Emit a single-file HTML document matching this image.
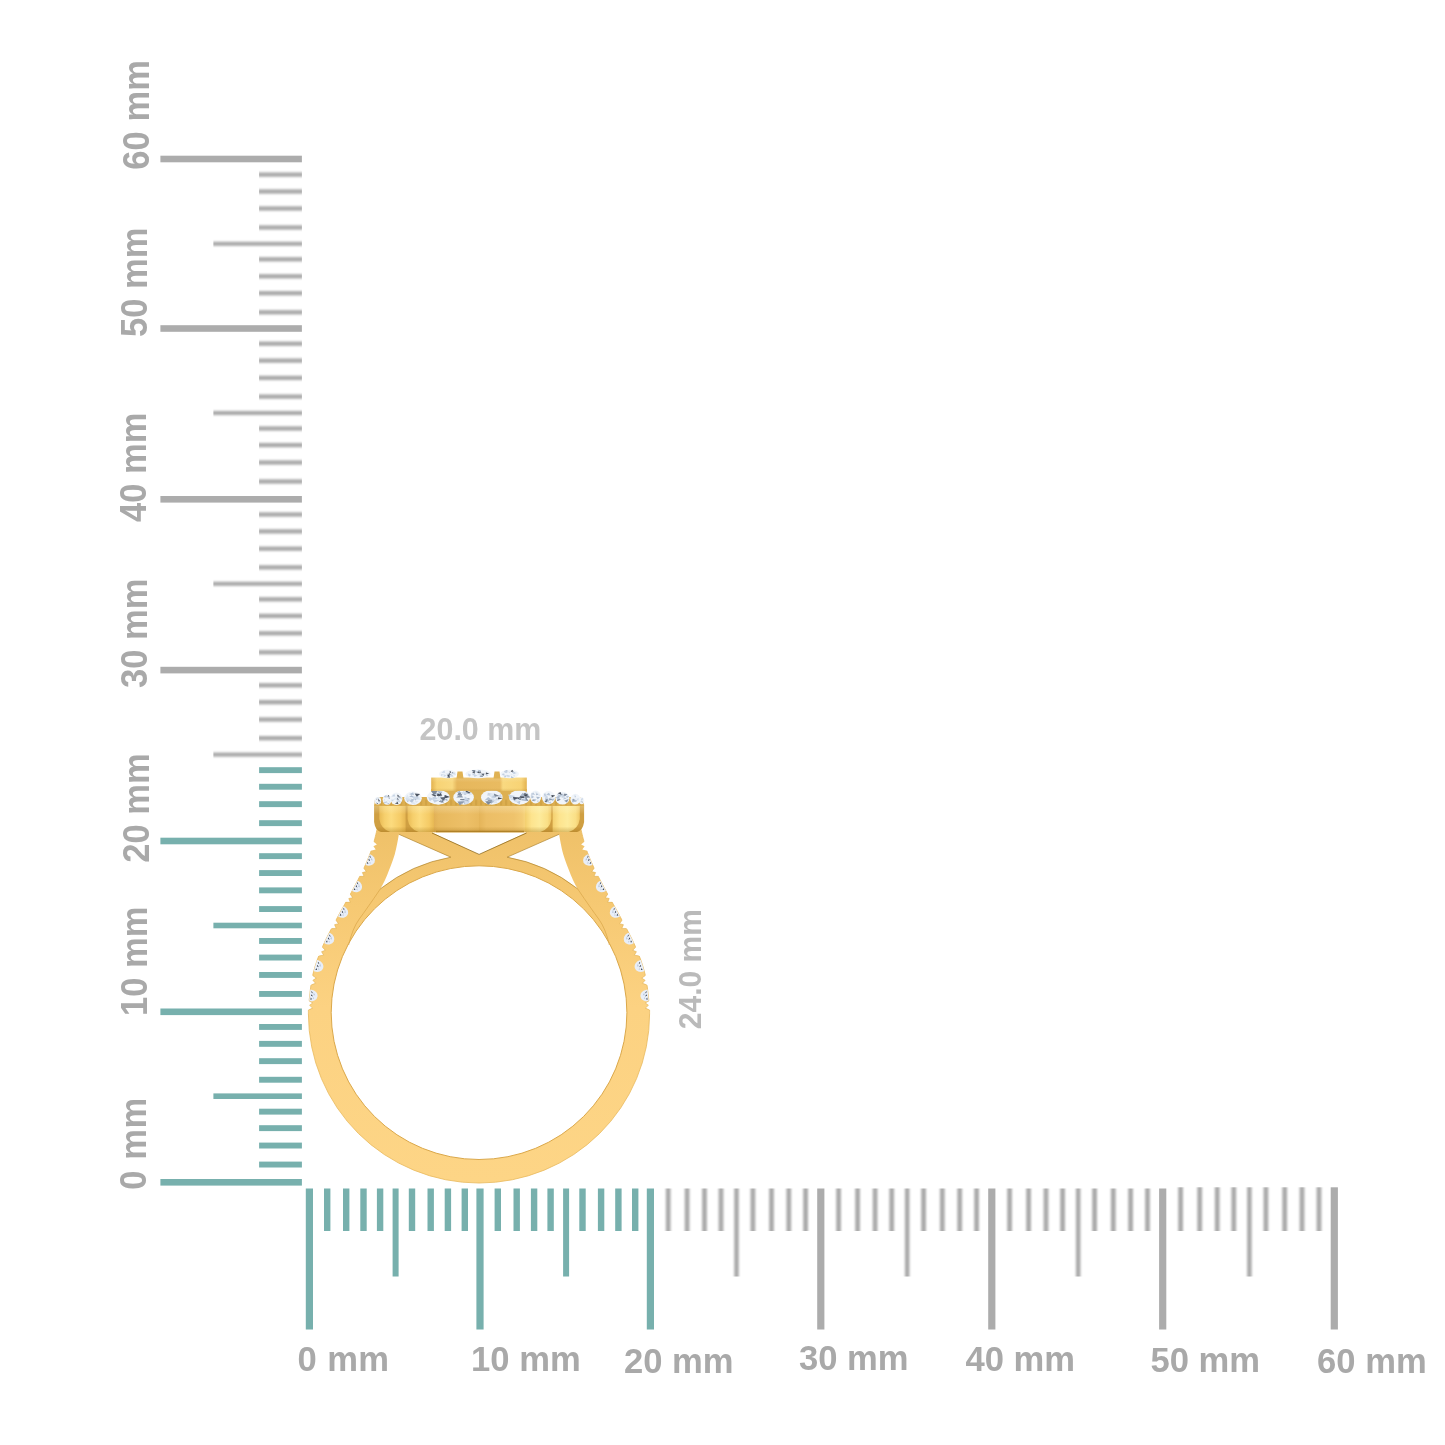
<!DOCTYPE html>
<html lang="en">
<head>
<meta charset="utf-8">
<title>Ring size guide</title>
<style>
html,body{margin:0;padding:0;background:#fff;}
body{width:1445px;height:1445px;overflow:hidden;}
svg{display:block;}
text{font-family:"Liberation Sans",sans-serif;font-weight:bold;}
.lb{fill:#a9a9a9;}
.dm{fill:#c4c4c4;}
.dm2{fill:#bababa;}
</style>
</head>
<body>
<svg width="1445" height="1445" viewBox="0 0 1445 1445">
<rect width="1445" height="1445" fill="#ffffff"/>
<defs>
<filter id="softx" x="-2%" y="-10%" width="104%" height="120%"><feGaussianBlur stdDeviation="0.9 0.25"/></filter>
<filter id="softy" x="-10%" y="-2%" width="120%" height="104%"><feGaussianBlur stdDeviation="0.25 0.8"/></filter>
</defs>
<g id="vruler" shape-rendering="geometricPrecision">
<rect x="160.4" y="1179.0" width="141.5" height="6.6" fill="#77b0ad"/>
<rect x="259.1" y="1161.6" width="42.8" height="5.9" fill="#77b0ad"/>
<rect x="259.1" y="1142.6" width="42.8" height="5.9" fill="#77b0ad"/>
<rect x="259.1" y="1125.2" width="42.8" height="5.9" fill="#77b0ad"/>
<rect x="259.1" y="1108.7" width="42.8" height="5.9" fill="#77b0ad"/>
<rect x="213.4" y="1093.4" width="88.5" height="5.6" fill="#77b0ad"/>
<rect x="259.1" y="1076.8" width="42.8" height="5.9" fill="#77b0ad"/>
<rect x="259.1" y="1058.2" width="42.8" height="5.9" fill="#77b0ad"/>
<rect x="259.1" y="1040.9" width="42.8" height="5.9" fill="#77b0ad"/>
<rect x="259.1" y="1024.0" width="42.8" height="5.9" fill="#77b0ad"/>
<rect x="160.4" y="1008.5" width="141.5" height="6.6" fill="#77b0ad"/>
<rect x="259.1" y="991.0" width="42.8" height="5.9" fill="#77b0ad"/>
<rect x="259.1" y="972.0" width="42.8" height="5.9" fill="#77b0ad"/>
<rect x="259.1" y="954.6" width="42.8" height="5.9" fill="#77b0ad"/>
<rect x="259.1" y="938.0" width="42.8" height="5.9" fill="#77b0ad"/>
<rect x="213.4" y="922.7" width="88.5" height="5.6" fill="#77b0ad"/>
<rect x="259.1" y="906.1" width="42.8" height="5.9" fill="#77b0ad"/>
<rect x="259.1" y="887.4" width="42.8" height="5.9" fill="#77b0ad"/>
<rect x="259.1" y="870.1" width="42.8" height="5.9" fill="#77b0ad"/>
<rect x="259.1" y="853.2" width="42.8" height="5.9" fill="#77b0ad"/>
<rect x="160.4" y="837.7" width="141.5" height="6.6" fill="#77b0ad"/>
<rect x="259.1" y="820.2" width="42.8" height="5.9" fill="#77b0ad"/>
<rect x="259.1" y="801.2" width="42.8" height="5.9" fill="#77b0ad"/>
<rect x="259.1" y="783.8" width="42.8" height="5.9" fill="#77b0ad"/>
<rect x="259.1" y="767.2" width="42.8" height="5.9" fill="#77b0ad"/>
<rect x="160.4" y="666.8" width="141.5" height="6.6" fill="#acacac"/>
<rect x="160.4" y="496.0" width="141.5" height="6.6" fill="#acacac"/>
<rect x="160.4" y="325.2" width="141.5" height="6.6" fill="#acacac"/>
<rect x="160.4" y="155.7" width="141.5" height="6.6" fill="#acacac"/>
<g filter="url(#softy)">
<rect x="213.4" y="752.5" width="88.5" height="4.2" fill="#ababab"/>
<rect x="259.1" y="736.0" width="42.8" height="4.4" fill="#ababab"/>
<rect x="259.1" y="717.3" width="42.8" height="4.4" fill="#ababab"/>
<rect x="259.1" y="700.0" width="42.8" height="4.4" fill="#ababab"/>
<rect x="259.1" y="683.1" width="42.8" height="4.4" fill="#ababab"/>
<rect x="259.1" y="650.1" width="42.8" height="4.4" fill="#ababab"/>
<rect x="259.1" y="631.1" width="42.8" height="4.4" fill="#ababab"/>
<rect x="259.1" y="613.7" width="42.8" height="4.4" fill="#ababab"/>
<rect x="259.1" y="597.1" width="42.8" height="4.4" fill="#ababab"/>
<rect x="213.4" y="581.7" width="88.5" height="4.2" fill="#ababab"/>
<rect x="259.1" y="565.2" width="42.8" height="4.4" fill="#ababab"/>
<rect x="259.1" y="546.5" width="42.8" height="4.4" fill="#ababab"/>
<rect x="259.1" y="529.2" width="42.8" height="4.4" fill="#ababab"/>
<rect x="259.1" y="512.3" width="42.8" height="4.4" fill="#ababab"/>
<rect x="259.1" y="479.3" width="42.8" height="4.4" fill="#ababab"/>
<rect x="259.1" y="460.3" width="42.8" height="4.4" fill="#ababab"/>
<rect x="259.1" y="442.9" width="42.8" height="4.4" fill="#ababab"/>
<rect x="259.1" y="426.3" width="42.8" height="4.4" fill="#ababab"/>
<rect x="213.4" y="410.9" width="88.5" height="4.2" fill="#ababab"/>
<rect x="259.1" y="394.4" width="42.8" height="4.4" fill="#ababab"/>
<rect x="259.1" y="375.7" width="42.8" height="4.4" fill="#ababab"/>
<rect x="259.1" y="358.4" width="42.8" height="4.4" fill="#ababab"/>
<rect x="259.1" y="341.5" width="42.8" height="4.4" fill="#ababab"/>
<rect x="259.1" y="310.1" width="42.8" height="4.4" fill="#ababab"/>
<rect x="259.1" y="291.0" width="42.8" height="4.4" fill="#ababab"/>
<rect x="259.1" y="274.1" width="42.8" height="4.4" fill="#ababab"/>
<rect x="259.1" y="257.1" width="42.8" height="4.4" fill="#ababab"/>
<rect x="213.4" y="241.7" width="88.5" height="4.2" fill="#ababab"/>
<rect x="259.1" y="225.3" width="42.8" height="4.4" fill="#ababab"/>
<rect x="259.1" y="206.3" width="42.8" height="4.4" fill="#ababab"/>
<rect x="259.1" y="189.3" width="42.8" height="4.4" fill="#ababab"/>
<rect x="259.1" y="172.4" width="42.8" height="4.4" fill="#ababab"/>
</g>
</g>
<g id="hruler">
<rect x="305.8" y="1188.5" width="7.2" height="141.0" fill="#77b0ad"/>
<rect x="324.0" y="1188.5" width="6.4" height="42.5" fill="#77b0ad"/>
<rect x="343.0" y="1188.5" width="6.4" height="42.5" fill="#77b0ad"/>
<rect x="360.3" y="1188.5" width="6.4" height="42.5" fill="#77b0ad"/>
<rect x="376.9" y="1188.5" width="6.4" height="42.5" fill="#77b0ad"/>
<rect x="392.6" y="1188.5" width="6.0" height="88.0" fill="#77b0ad"/>
<rect x="408.8" y="1188.5" width="6.4" height="42.5" fill="#77b0ad"/>
<rect x="427.5" y="1188.5" width="6.4" height="42.5" fill="#77b0ad"/>
<rect x="444.7" y="1188.5" width="6.4" height="42.5" fill="#77b0ad"/>
<rect x="461.6" y="1188.5" width="6.4" height="42.5" fill="#77b0ad"/>
<rect x="476.4" y="1188.5" width="7.2" height="141.0" fill="#77b0ad"/>
<rect x="494.6" y="1188.5" width="6.4" height="42.5" fill="#77b0ad"/>
<rect x="513.5" y="1188.5" width="6.4" height="42.5" fill="#77b0ad"/>
<rect x="530.9" y="1188.5" width="6.4" height="42.5" fill="#77b0ad"/>
<rect x="547.4" y="1188.5" width="6.4" height="42.5" fill="#77b0ad"/>
<rect x="563.1" y="1188.5" width="6.0" height="88.0" fill="#77b0ad"/>
<rect x="579.3" y="1188.5" width="6.4" height="42.5" fill="#77b0ad"/>
<rect x="597.9" y="1188.5" width="6.4" height="42.5" fill="#77b0ad"/>
<rect x="615.2" y="1188.5" width="6.4" height="42.5" fill="#77b0ad"/>
<rect x="632.0" y="1188.5" width="6.4" height="42.5" fill="#77b0ad"/>
<rect x="646.8" y="1188.5" width="7.2" height="141.0" fill="#77b0ad"/>
<rect x="817.2" y="1188.5" width="7.2" height="141.0" fill="#acacac"/>
<rect x="988.2" y="1188.5" width="7.2" height="141.0" fill="#acacac"/>
<rect x="1159.1" y="1188.5" width="7.2" height="141.0" fill="#acacac"/>
<rect x="1330.7" y="1187.3" width="7.2" height="142.2" fill="#acacac"/>
<g filter="url(#softx)">
<rect x="665.8" y="1188.5" width="4.8" height="42.5" fill="#ababab"/>
<rect x="684.7" y="1188.5" width="4.8" height="42.5" fill="#ababab"/>
<rect x="702.1" y="1188.5" width="4.8" height="42.5" fill="#ababab"/>
<rect x="718.6" y="1188.5" width="4.8" height="42.5" fill="#ababab"/>
<rect x="734.2" y="1188.5" width="4.6" height="88.0" fill="#ababab"/>
<rect x="750.5" y="1188.5" width="4.8" height="42.5" fill="#ababab"/>
<rect x="769.1" y="1188.5" width="4.8" height="42.5" fill="#ababab"/>
<rect x="786.4" y="1188.5" width="4.8" height="42.5" fill="#ababab"/>
<rect x="803.2" y="1188.5" width="4.8" height="42.5" fill="#ababab"/>
<rect x="836.2" y="1188.5" width="4.8" height="42.5" fill="#ababab"/>
<rect x="855.2" y="1188.5" width="4.8" height="42.5" fill="#ababab"/>
<rect x="872.7" y="1188.5" width="4.8" height="42.5" fill="#ababab"/>
<rect x="889.3" y="1188.5" width="4.8" height="42.5" fill="#ababab"/>
<rect x="904.9" y="1188.5" width="4.6" height="88.0" fill="#ababab"/>
<rect x="921.2" y="1188.5" width="4.8" height="42.5" fill="#ababab"/>
<rect x="939.9" y="1188.5" width="4.8" height="42.5" fill="#ababab"/>
<rect x="957.3" y="1188.5" width="4.8" height="42.5" fill="#ababab"/>
<rect x="974.2" y="1188.5" width="4.8" height="42.5" fill="#ababab"/>
<rect x="1007.2" y="1188.5" width="4.8" height="42.5" fill="#ababab"/>
<rect x="1026.2" y="1188.5" width="4.8" height="42.5" fill="#ababab"/>
<rect x="1043.6" y="1188.5" width="4.8" height="42.5" fill="#ababab"/>
<rect x="1060.2" y="1188.5" width="4.8" height="42.5" fill="#ababab"/>
<rect x="1075.9" y="1188.5" width="4.6" height="88.0" fill="#ababab"/>
<rect x="1092.2" y="1188.5" width="4.8" height="42.5" fill="#ababab"/>
<rect x="1110.9" y="1188.5" width="4.8" height="42.5" fill="#ababab"/>
<rect x="1128.2" y="1188.5" width="4.8" height="42.5" fill="#ababab"/>
<rect x="1145.1" y="1188.5" width="4.8" height="42.5" fill="#ababab"/>
<rect x="1178.2" y="1187.3" width="4.8" height="43.7" fill="#ababab"/>
<rect x="1197.3" y="1187.3" width="4.8" height="43.7" fill="#ababab"/>
<rect x="1214.8" y="1187.3" width="4.8" height="43.7" fill="#ababab"/>
<rect x="1231.4" y="1187.3" width="4.8" height="43.7" fill="#ababab"/>
<rect x="1247.1" y="1187.3" width="4.6" height="89.2" fill="#ababab"/>
<rect x="1263.5" y="1187.3" width="4.8" height="43.7" fill="#ababab"/>
<rect x="1282.3" y="1187.3" width="4.8" height="43.7" fill="#ababab"/>
<rect x="1299.6" y="1187.3" width="4.8" height="43.7" fill="#ababab"/>
<rect x="1316.6" y="1187.3" width="4.8" height="43.7" fill="#ababab"/>
</g>
</g>
<g id="labels">
<text class="lb" transform="translate(297.5,1370.7) scale(1,1.02)" font-size="34.6" letter-spacing="0.4">0 mm</text>
<text class="lb" transform="translate(471.1,1370.7) scale(1,1.02)" font-size="34.6">10 mm</text>
<text class="lb" transform="translate(624.0,1372.8) scale(1,1.02)" font-size="34.6">20 mm</text>
<text class="lb" transform="translate(799.0,1370.3) scale(1,1.02)" font-size="34.6">30 mm</text>
<text class="lb" transform="translate(965.4,1370.7) scale(1,1.02)" font-size="34.6">40 mm</text>
<text class="lb" transform="translate(1150.4,1371.5) scale(1,1.02)" font-size="34.6">50 mm</text>
<text class="lb" transform="translate(1317.1,1373.0) scale(1,1.02)" font-size="34.6">60 mm</text>
<text class="lb" transform="translate(146.4,1189.8) rotate(-90) scale(1,1.05)" font-size="34.6" letter-spacing="0.6">0 mm</text>
<text class="lb" transform="translate(147.4,1016.0) rotate(-90) scale(1,1.05)" font-size="34.6">10 mm</text>
<text class="lb" transform="translate(148.5,862.8) rotate(-90) scale(1,1.05)" font-size="34.6">20 mm</text>
<text class="lb" transform="translate(146.7,688.0) rotate(-90) scale(1,1.05)" font-size="34.6">30 mm</text>
<text class="lb" transform="translate(146.3,522.0) rotate(-90) scale(1,1.05)" font-size="34.6">40 mm</text>
<text class="lb" transform="translate(147.4,337.0) rotate(-90) scale(1,1.05)" font-size="34.6">50 mm</text>
<text class="lb" transform="translate(148.8,169.7) rotate(-90) scale(1,1.05)" font-size="34.6">60 mm</text>
</g>
<defs>
<linearGradient id="gBody" gradientUnits="userSpaceOnUse" x1="0" y1="830" x2="0" y2="1185"><stop offset="0" stop-color="#efc169"/><stop offset="0.22" stop-color="#f6c973"/><stop offset="0.5" stop-color="#fcd282"/><stop offset="1" stop-color="#fdd586"/></linearGradient>
<linearGradient id="gLobeL" x1="0" y1="0" x2="1" y2="0"><stop offset="0" stop-color="#e9bb55"/><stop offset="0.2" stop-color="#f6cf6c"/><stop offset="0.45" stop-color="#fcdb7e"/><stop offset="0.8" stop-color="#f5cb66"/><stop offset="1" stop-color="#e6b652"/></linearGradient>
<linearGradient id="gLobeR" x1="0" y1="0" x2="1" y2="0"><stop offset="0" stop-color="#f3cf6e"/><stop offset="0.25" stop-color="#fde48e"/><stop offset="0.55" stop-color="#fdeb9c"/><stop offset="0.85" stop-color="#fadf86"/><stop offset="1" stop-color="#f0c968"/></linearGradient>
<linearGradient id="gLobeM" x1="0" y1="0" x2="1" y2="0"><stop offset="0" stop-color="#e2b156"/><stop offset="0.1" stop-color="#e7b85d"/><stop offset="0.7" stop-color="#edc068"/><stop offset="1" stop-color="#e8b95f"/></linearGradient>
<linearGradient id="gLobeM2" x1="0" y1="0" x2="1" y2="0"><stop offset="0" stop-color="#e5b55a"/><stop offset="0.15" stop-color="#ecbe66"/><stop offset="0.75" stop-color="#efc36c"/><stop offset="0.93" stop-color="#f3cb74"/><stop offset="1" stop-color="#f7d47c"/></linearGradient>
<linearGradient id="gShade" x1="0" y1="0" x2="0" y2="1"><stop offset="0" stop-color="#fff3c0" stop-opacity="0.35"/><stop offset="0.35" stop-color="#ffffff" stop-opacity="0"/><stop offset="0.8" stop-color="#9a6a10" stop-opacity="0"/><stop offset="1" stop-color="#9a6a10" stop-opacity="0.35"/></linearGradient>
<linearGradient id="gBez" x1="0" y1="0" x2="1" y2="0"><stop offset="0" stop-color="#e3b24f"/><stop offset="0.06" stop-color="#f7d375"/><stop offset="0.22" stop-color="#f9d980"/><stop offset="0.27" stop-color="#e6b75c"/><stop offset="0.72" stop-color="#e9bb61"/><stop offset="0.75" stop-color="#f9d980"/><stop offset="0.94" stop-color="#f7d375"/><stop offset="1" stop-color="#e3b24f"/></linearGradient>
</defs>
<g id="ring">
<path d="M377.5 826.0 C377.4 826.8 377.6 827.3 376.7 831.0 C375.8 834.7 374.1 842.3 372.0 848.3 C369.9 854.3 367.9 859.6 364.4 867.0 C360.9 874.4 355.7 884.2 351.2 892.6 C346.7 901.0 342.1 908.5 337.4 917.5 C332.6 926.5 326.8 936.9 322.7 946.3 C318.6 955.7 315.3 964.5 313.0 974.0 C310.7 983.5 309.7 996.4 308.9 1003.0 C308.1 1009.6 308.5 1012.0 308.4 1013.8 A170.6 169.3 0 0 0 649.6 1013.8 C649.5 1012.0 649.9 1009.6 649.1 1003.0 C648.3 996.4 647.3 983.5 645.0 974.0 C642.7 964.5 639.4 955.7 635.3 946.3 C631.2 936.9 625.4 926.5 620.6 917.5 C615.9 908.5 611.3 901.0 606.8 892.6 C602.3 884.2 597.1 874.4 593.6 867.0 C590.1 859.6 588.0 854.3 586.0 848.3 C584.0 842.3 582.2 834.7 581.3 831.0 C580.4 827.3 580.6 826.8 580.5 826.0 Z" fill="url(#gBody)" stroke="#e9b95c" stroke-width="0.8"/>
<ellipse cx="479.05" cy="1012.65" rx="147.85" ry="146.85" fill="#ffffff" stroke="#dba84a" stroke-width="1"/>
<path d="M432 832.5 L526.5 832.5 L479.1 854.4 Z" fill="#ffffff"/>
<path d="M432 833 L479.1 854.4 L526.5 833" fill="none" stroke="#8a6416" stroke-width="1" stroke-opacity="0.75"/>
<path d="M398.9 834.3 L450.8 857.2 A158.3 158.3 0 0 0 380.5 888.7 C381.6 886.5 384.6 881.1 387.0 875.4 C389.4 869.7 392.7 861.5 394.7 854.6 C396.7 847.8 398.2 837.7 398.9 834.3 Z" fill="#ffffff"/>
<path d="M398.9 834.3 L450.8 857.2 A158.3 158.3 0 0 0 380.5 888.7" fill="none" stroke="#a87a20" stroke-width="0.9" stroke-opacity="0.7"/>
<path d="M559.1 834.3 L507.2 857.2 A158.3 158.3 0 0 1 577.5 888.7 C576.4 886.5 573.4 881.1 571.0 875.4 C568.6 869.7 565.3 861.5 563.3 854.6 C561.3 847.8 559.8 837.7 559.1 834.3 Z" fill="#ffffff"/>
<path d="M559.1 834.3 L507.2 857.2 A158.3 158.3 0 0 1 577.5 888.7" fill="none" stroke="#a87a20" stroke-width="0.9" stroke-opacity="0.7"/>
<path d="M380.5 888.7 Q366 910 359.3 919 T348.6 945" fill="none" stroke="#d9a648" stroke-width="0.9" stroke-opacity="0.8"/>
<path d="M577.5 888.7 Q592.0 910 598.7 919 T609.4 945" fill="none" stroke="#d9a648" stroke-width="0.9" stroke-opacity="0.8"/>
<clipPath id="bodyclip"><path d="M377.5 826.0 C377.4 826.8 377.6 827.3 376.7 831.0 C375.8 834.7 374.1 842.3 372.0 848.3 C369.9 854.3 367.9 859.6 364.4 867.0 C360.9 874.4 355.7 884.2 351.2 892.6 C346.7 901.0 342.1 908.5 337.4 917.5 C332.6 926.5 326.8 936.9 322.7 946.3 C318.6 955.7 315.3 964.5 313.0 974.0 C310.7 983.5 309.7 996.4 308.9 1003.0 C308.1 1009.6 308.5 1012.0 308.4 1013.8 A170.6 169.3 0 0 0 649.6 1013.8 C649.5 1012.0 649.9 1009.6 649.1 1003.0 C648.3 996.4 647.3 983.5 645.0 974.0 C642.7 964.5 639.4 955.7 635.3 946.3 C631.2 936.9 625.4 926.5 620.6 917.5 C615.9 908.5 611.3 901.0 606.8 892.6 C602.3 884.2 597.1 874.4 593.6 867.0 C590.1 859.6 588.0 854.3 586.0 848.3 C584.0 842.3 582.2 834.7 581.3 831.0 C580.4 827.3 580.6 826.8 580.5 826.0 Z"/></clipPath>
<g clip-path="url(#bodyclip)">
<g transform="translate(368.0,859.6) rotate(112)"><ellipse rx="5.9" ry="7.0" fill="#e8eef8"/><path d="M-4.6 -0.4 L-2.4 -2.2 L-3.2 -0.2 Z M-1.4 -0.6 L0.6 -2.6 L0.2 -0.4 Z M2.0 -0.5 L3.6 -1.9 L4.2 -0.3 Z" fill="#3e4652"/><path d="M-3.4 -2.6 L-1.0 -4.6 L-0.6 -2.8 Z M1.2 -3.0 L3.0 -4.0 L2.6 -2.4 Z" fill="#b9c8dc"/></g>
<g transform="translate(590.0,859.6) rotate(68)"><ellipse rx="5.9" ry="7.0" fill="#e8eef8"/><path d="M-4.6 0.4 L-2.4 2.2 L-3.2 0.2 Z M-1.4 0.6 L0.6 2.6 L0.2 0.4 Z M2.0 0.5 L3.6 1.9 L4.2 0.3 Z" fill="#3e4652"/><path d="M-3.4 2.6 L-1.0 4.6 L-0.6 2.8 Z M1.2 3.0 L3.0 4.0 L2.6 2.4 Z" fill="#b9c8dc"/></g>
<g transform="translate(355.3,886.0) rotate(117)"><ellipse rx="5.9" ry="7.0" fill="#e8eef8"/><path d="M-4.6 -0.4 L-2.4 -2.2 L-3.2 -0.2 Z M-1.4 -0.6 L0.6 -2.6 L0.2 -0.4 Z M2.0 -0.5 L3.6 -1.9 L4.2 -0.3 Z" fill="#3e4652"/><path d="M-3.4 -2.6 L-1.0 -4.6 L-0.6 -2.8 Z M1.2 -3.0 L3.0 -4.0 L2.6 -2.4 Z" fill="#b9c8dc"/></g>
<g transform="translate(602.7,886.0) rotate(63)"><ellipse rx="5.9" ry="7.0" fill="#e8eef8"/><path d="M-4.6 0.4 L-2.4 2.2 L-3.2 0.2 Z M-1.4 0.6 L0.6 2.6 L0.2 0.4 Z M2.0 0.5 L3.6 1.9 L4.2 0.3 Z" fill="#3e4652"/><path d="M-3.4 2.6 L-1.0 4.6 L-0.6 2.8 Z M1.2 3.0 L3.0 4.0 L2.6 2.4 Z" fill="#b9c8dc"/></g>
<g transform="translate(341.4,911.6) rotate(119)"><ellipse rx="5.9" ry="7.0" fill="#e8eef8"/><path d="M-4.6 -0.4 L-2.4 -2.2 L-3.2 -0.2 Z M-1.4 -0.6 L0.6 -2.6 L0.2 -0.4 Z M2.0 -0.5 L3.6 -1.9 L4.2 -0.3 Z" fill="#3e4652"/><path d="M-3.4 -2.6 L-1.0 -4.6 L-0.6 -2.8 Z M1.2 -3.0 L3.0 -4.0 L2.6 -2.4 Z" fill="#b9c8dc"/></g>
<g transform="translate(616.6,911.6) rotate(61)"><ellipse rx="5.9" ry="7.0" fill="#e8eef8"/><path d="M-4.6 0.4 L-2.4 2.2 L-3.2 0.2 Z M-1.4 0.6 L0.6 2.6 L0.2 0.4 Z M2.0 0.5 L3.6 1.9 L4.2 0.3 Z" fill="#3e4652"/><path d="M-3.4 2.6 L-1.0 4.6 L-0.6 2.8 Z M1.2 3.0 L3.0 4.0 L2.6 2.4 Z" fill="#b9c8dc"/></g>
<g transform="translate(327.5,938.3) rotate(117)"><ellipse rx="5.9" ry="7.0" fill="#e8eef8"/><path d="M-4.6 -0.4 L-2.4 -2.2 L-3.2 -0.2 Z M-1.4 -0.6 L0.6 -2.6 L0.2 -0.4 Z M2.0 -0.5 L3.6 -1.9 L4.2 -0.3 Z" fill="#3e4652"/><path d="M-3.4 -2.6 L-1.0 -4.6 L-0.6 -2.8 Z M1.2 -3.0 L3.0 -4.0 L2.6 -2.4 Z" fill="#b9c8dc"/></g>
<g transform="translate(630.5,938.3) rotate(63)"><ellipse rx="5.9" ry="7.0" fill="#e8eef8"/><path d="M-4.6 0.4 L-2.4 2.2 L-3.2 0.2 Z M-1.4 0.6 L0.6 2.6 L0.2 0.4 Z M2.0 0.5 L3.6 1.9 L4.2 0.3 Z" fill="#3e4652"/><path d="M-3.4 2.6 L-1.0 4.6 L-0.6 2.8 Z M1.2 3.0 L3.0 4.0 L2.6 2.4 Z" fill="#b9c8dc"/></g>
<g transform="translate(316.5,965.9) rotate(109)"><ellipse rx="5.9" ry="7.0" fill="#e8eef8"/><path d="M-4.6 -0.4 L-2.4 -2.2 L-3.2 -0.2 Z M-1.4 -0.6 L0.6 -2.6 L0.2 -0.4 Z M2.0 -0.5 L3.6 -1.9 L4.2 -0.3 Z" fill="#3e4652"/><path d="M-3.4 -2.6 L-1.0 -4.6 L-0.6 -2.8 Z M1.2 -3.0 L3.0 -4.0 L2.6 -2.4 Z" fill="#b9c8dc"/></g>
<g transform="translate(641.5,965.9) rotate(71)"><ellipse rx="5.9" ry="7.0" fill="#e8eef8"/><path d="M-4.6 0.4 L-2.4 2.2 L-3.2 0.2 Z M-1.4 0.6 L0.6 2.6 L0.2 0.4 Z M2.0 0.5 L3.6 1.9 L4.2 0.3 Z" fill="#3e4652"/><path d="M-3.4 2.6 L-1.0 4.6 L-0.6 2.8 Z M1.2 3.0 L3.0 4.0 L2.6 2.4 Z" fill="#b9c8dc"/></g>
<g transform="translate(310.6,995.5) rotate(98)"><ellipse rx="5.9" ry="7.0" fill="#e8eef8"/><path d="M-4.6 -0.4 L-2.4 -2.2 L-3.2 -0.2 Z M-1.4 -0.6 L0.6 -2.6 L0.2 -0.4 Z M2.0 -0.5 L3.6 -1.9 L4.2 -0.3 Z" fill="#3e4652"/><path d="M-3.4 -2.6 L-1.0 -4.6 L-0.6 -2.8 Z M1.2 -3.0 L3.0 -4.0 L2.6 -2.4 Z" fill="#b9c8dc"/></g>
<g transform="translate(647.4,995.5) rotate(82)"><ellipse rx="5.9" ry="7.0" fill="#e8eef8"/><path d="M-4.6 0.4 L-2.4 2.2 L-3.2 0.2 Z M-1.4 0.6 L0.6 2.6 L0.2 0.4 Z M2.0 0.5 L3.6 1.9 L4.2 0.3 Z" fill="#3e4652"/><path d="M-3.4 2.6 L-1.0 4.6 L-0.6 2.8 Z M1.2 3.0 L3.0 4.0 L2.6 2.4 Z" fill="#b9c8dc"/></g>
</g>
<polygon points="362.8,866.9 366.3,871.6 362.4,872.6 364.0,876.3 357.9,876.3" fill="#ffffff"/>
<polyline points="363.8,868.2 366.3,871.6 362.4,872.6 364.0,876.3 359.6,876.4" fill="none" stroke="#e0ae4c" stroke-width="0.6"/>
<polygon points="595.2,866.9 591.7,871.6 595.6,872.6 594.0,876.3 600.1,876.3" fill="#ffffff"/>
<polyline points="594.2,868.2 591.7,871.6 595.6,872.6 594.0,876.3 598.4,876.4" fill="none" stroke="#e0ae4c" stroke-width="0.6"/>
<polygon points="349.3,892.9 352.7,897.7 348.8,898.5 350.3,902.3 344.2,902.1" fill="#ffffff"/>
<polyline points="350.3,894.2 352.7,897.7 348.8,898.5 350.3,902.3 345.8,902.3" fill="none" stroke="#e0ae4c" stroke-width="0.6"/>
<polygon points="608.7,892.9 605.3,897.7 609.2,898.5 607.7,902.3 613.8,902.1" fill="#ffffff"/>
<polyline points="607.7,894.2 605.3,897.7 609.2,898.5 607.7,902.3 612.2,902.3" fill="none" stroke="#e0ae4c" stroke-width="0.6"/>
<polygon points="335.0,919.0 338.5,923.7 334.6,924.7 336.2,928.4 330.1,928.4" fill="#ffffff"/>
<polyline points="336.0,920.3 338.5,923.7 334.6,924.7 336.2,928.4 331.8,928.5" fill="none" stroke="#e0ae4c" stroke-width="0.6"/>
<polygon points="623.0,919.0 619.5,923.7 623.4,924.7 621.8,928.4 627.9,928.4" fill="#ffffff"/>
<polyline points="622.0,920.3 619.5,923.7 623.4,924.7 621.8,928.4 626.2,928.5" fill="none" stroke="#e0ae4c" stroke-width="0.6"/>
<polygon points="321.2,946.1 325.3,950.3 321.6,951.7 323.7,955.2 317.7,956.1" fill="#ffffff"/>
<polyline points="322.4,947.2 325.3,950.3 321.6,951.7 323.7,955.2 319.3,955.9" fill="none" stroke="#e0ae4c" stroke-width="0.6"/>
<polygon points="636.8,946.1 632.7,950.3 636.4,951.7 634.3,955.2 640.3,956.1" fill="#ffffff"/>
<polyline points="635.6,947.2 632.7,950.3 636.4,951.7 634.3,955.2 638.7,955.9" fill="none" stroke="#e0ae4c" stroke-width="0.6"/>
<polygon points="311.4,974.8 316.3,978.1 312.9,980.3 315.6,983.3 309.9,985.3" fill="#ffffff"/>
<polyline points="312.8,975.7 316.3,978.1 312.9,980.3 315.6,983.3 311.5,984.8" fill="none" stroke="#e0ae4c" stroke-width="0.6"/>
<polygon points="646.6,974.8 641.7,978.1 645.1,980.3 642.4,983.3 648.1,985.3" fill="#ffffff"/>
<polyline points="645.2,975.7 641.7,978.1 645.1,980.3 642.4,983.3 646.5,984.8" fill="none" stroke="#e0ae4c" stroke-width="0.6"/>
<polygon points="307.5,1000.0 312.7,1002.9 309.6,1005.3 312.6,1008.1 307.0,1010.6" fill="#ffffff"/>
<polyline points="309.0,1000.8 312.7,1002.9 309.6,1005.3 312.6,1008.1 308.6,1010.0" fill="none" stroke="#e0ae4c" stroke-width="0.6"/>
<polygon points="650.5,1000.0 645.3,1002.9 648.4,1005.3 645.4,1008.1 651.0,1010.6" fill="#ffffff"/>
<polyline points="649.0,1000.8 645.3,1002.9 648.4,1005.3 645.4,1008.1 649.4,1010.0" fill="none" stroke="#e0ae4c" stroke-width="0.6"/>
<polygon points="372.5,840.7 376.9,844.6 373.4,846.3 375.7,849.6 369.7,850.9" fill="#ffffff"/>
<polygon points="585.5,840.7 581.1,844.6 584.6,846.3 582.3,849.6 588.3,850.9" fill="#ffffff"/>
<path d="M374.1 804.5 L584.1 804.5 L584.1 822 Q583 830 577 832.0 L381 832.0 Q375 830 374.1 822 Z" fill="#cf9f42"/>
<path d="M379.3 804.5 L405.6 804.5 L405.6 832.0 L390.3 832.0 Q380.8 829.0 379.3 819.0 Z" fill="url(#gLobeL)"/>
<path d="M407.6 804.5 L434.4 804.5 L434.4 832.0 L418.6 832.0 Q409.1 829.0 407.6 819.0 Z" fill="url(#gLobeL)"/>
<rect x="434.0" y="804.5" width="45.8" height="27.5" fill="url(#gLobeM)"/>
<rect x="479.6" y="804.5" width="45.6" height="27.5" fill="url(#gLobeM2)"/>
<path d="M525.0 804.5 L551.4 804.5 L551.4 819.0 Q549.9 829.0 540.4 832.0 L525.0 832.0 Z" fill="url(#gLobeR)"/>
<path d="M552.6 804.5 L579.8 804.5 L579.8 819.0 Q578.3 829.0 568.8 832.0 L552.6 832.0 Z" fill="url(#gLobeR)"/>
<path d="M374.1 804.5 L584.1 804.5 L584.1 822 Q583 830 577 832.0 L381 832.0 Q375 830 374.1 822 Z" fill="url(#gShade)"/>
<path d="M436 831.5 L524 831.5" stroke="#a8791f" stroke-width="1.3" stroke-opacity="0.8"/>
<path d="M374.3 806 L374.8 800 Q377 796.5 383 797 L575 797 Q581 796.5 583.4 800 L583.9 806 Z" fill="#dcae50"/>
<rect x="431.2" y="789" width="95.6" height="12" fill="#ddb052"/>
<rect x="380" y="799.5" width="2.2" height="6" rx="1" fill="#c99a3e" opacity="0.55"/>
<rect x="385" y="799.5" width="2.2" height="6" rx="1" fill="#c99a3e" opacity="0.55"/>
<rect x="390" y="799.5" width="2.2" height="6" rx="1" fill="#c99a3e" opacity="0.55"/>
<rect x="395" y="799.5" width="2.2" height="6" rx="1" fill="#c99a3e" opacity="0.55"/>
<rect x="400" y="799.5" width="2.2" height="6" rx="1" fill="#c99a3e" opacity="0.55"/>
<rect x="405" y="799.5" width="2.2" height="6" rx="1" fill="#c99a3e" opacity="0.55"/>
<rect x="410" y="799.5" width="2.2" height="6" rx="1" fill="#c99a3e" opacity="0.55"/>
<rect x="415" y="799.5" width="2.2" height="6" rx="1" fill="#c99a3e" opacity="0.55"/>
<rect x="420" y="799.5" width="2.2" height="6" rx="1" fill="#c99a3e" opacity="0.55"/>
<rect x="425" y="799.5" width="2.2" height="6" rx="1" fill="#c99a3e" opacity="0.55"/>
<rect x="430" y="799.5" width="2.2" height="6" rx="1" fill="#c99a3e" opacity="0.55"/>
<rect x="435" y="799.5" width="2.2" height="6" rx="1" fill="#c99a3e" opacity="0.55"/>
<rect x="440" y="799.5" width="2.2" height="6" rx="1" fill="#c99a3e" opacity="0.55"/>
<rect x="445" y="799.5" width="2.2" height="6" rx="1" fill="#c99a3e" opacity="0.55"/>
<rect x="450" y="799.5" width="2.2" height="6" rx="1" fill="#c99a3e" opacity="0.55"/>
<rect x="455" y="799.5" width="2.2" height="6" rx="1" fill="#c99a3e" opacity="0.55"/>
<rect x="460" y="799.5" width="2.2" height="6" rx="1" fill="#c99a3e" opacity="0.55"/>
<rect x="465" y="799.5" width="2.2" height="6" rx="1" fill="#c99a3e" opacity="0.55"/>
<rect x="470" y="799.5" width="2.2" height="6" rx="1" fill="#c99a3e" opacity="0.55"/>
<rect x="475" y="799.5" width="2.2" height="6" rx="1" fill="#c99a3e" opacity="0.55"/>
<rect x="480" y="799.5" width="2.2" height="6" rx="1" fill="#c99a3e" opacity="0.55"/>
<rect x="485" y="799.5" width="2.2" height="6" rx="1" fill="#c99a3e" opacity="0.55"/>
<rect x="490" y="799.5" width="2.2" height="6" rx="1" fill="#c99a3e" opacity="0.55"/>
<rect x="495" y="799.5" width="2.2" height="6" rx="1" fill="#c99a3e" opacity="0.55"/>
<rect x="500" y="799.5" width="2.2" height="6" rx="1" fill="#c99a3e" opacity="0.55"/>
<rect x="505" y="799.5" width="2.2" height="6" rx="1" fill="#c99a3e" opacity="0.55"/>
<rect x="510" y="799.5" width="2.2" height="6" rx="1" fill="#c99a3e" opacity="0.55"/>
<rect x="515" y="799.5" width="2.2" height="6" rx="1" fill="#c99a3e" opacity="0.55"/>
<rect x="520" y="799.5" width="2.2" height="6" rx="1" fill="#c99a3e" opacity="0.55"/>
<rect x="525" y="799.5" width="2.2" height="6" rx="1" fill="#c99a3e" opacity="0.55"/>
<rect x="530" y="799.5" width="2.2" height="6" rx="1" fill="#c99a3e" opacity="0.55"/>
<rect x="535" y="799.5" width="2.2" height="6" rx="1" fill="#c99a3e" opacity="0.55"/>
<rect x="540" y="799.5" width="2.2" height="6" rx="1" fill="#c99a3e" opacity="0.55"/>
<rect x="545" y="799.5" width="2.2" height="6" rx="1" fill="#c99a3e" opacity="0.55"/>
<rect x="550" y="799.5" width="2.2" height="6" rx="1" fill="#c99a3e" opacity="0.55"/>
<rect x="555" y="799.5" width="2.2" height="6" rx="1" fill="#c99a3e" opacity="0.55"/>
<rect x="560" y="799.5" width="2.2" height="6" rx="1" fill="#c99a3e" opacity="0.55"/>
<rect x="565" y="799.5" width="2.2" height="6" rx="1" fill="#c99a3e" opacity="0.55"/>
<rect x="570" y="799.5" width="2.2" height="6" rx="1" fill="#c99a3e" opacity="0.55"/>
<rect x="575" y="799.5" width="2.2" height="6" rx="1" fill="#c99a3e" opacity="0.55"/>
<rect x="580" y="799.5" width="2.2" height="6" rx="1" fill="#c99a3e" opacity="0.55"/>
<g transform="translate(377.8,800.8)"><ellipse rx="3.4" ry="3.8" fill="#f1f5fa"/><polygon points="-0.1,-2.0 0.1,-2.9 1.0,-2.2" fill="#7c8899"/><polygon points="-1.8,1.2 -0.4,1.6 -1.3,2.2" fill="#a9b8cc"/><polygon points="1.0,1.7 2.8,2.7 0.9,3.0" fill="#cbd6e4"/><polygon points="2.3,0.2 0.2,0.4 1.1,-1.0" fill="#3f4650"/><polygon points="-0.0,3.3 -1.7,2.6 0.2,2.1" fill="#4b5360"/><polygon points="-3.2,0.7 -2.8,-0.3 -2.0,0.4" fill="#c8d5e6"/><polygon points="1.5,1.5 0.5,0.7 2.9,0.4" fill="#7c8899"/><polygon points="-1.7,-1.0 -1.5,-2.2 -0.4,-1.6" fill="#8e9bad"/><polygon points="-0.3,-1.9 -1.0,-3.5 1.2,-3.4" fill="#dfe8f2"/><polygon points="0.6,1.7 0.7,0.5 2.6,1.2" fill="#c8d5e6"/><polygon points="1.2,-1.6 1.3,-0.5 -0.2,-1.1" fill="#3f4650"/></g>
<g transform="translate(387.2,799.6)"><ellipse rx="4.6" ry="5.2" fill="#f1f5fa"/><polygon points="-1.9,0.7 -3.8,0.9 -2.6,-0.4" fill="#c8d5e6"/><polygon points="-3.5,-3.4 -0.6,-4.3 -0.8,-2.2" fill="#a9b8cc"/><polygon points="1.2,-1.3 2.5,-2.2 2.6,-0.9" fill="#7c8899"/><polygon points="-1.2,3.7 -1.1,2.5 0.4,3.5" fill="#c8d5e6"/><polygon points="-0.4,-3.0 -2.3,-1.6 -2.9,-3.4" fill="#c8d5e6"/><polygon points="0.2,0.3 2.3,1.0 0.3,1.5" fill="#dfe8f2"/><polygon points="-1.2,-2.8 1.0,-2.5 -0.0,-1.5" fill="#d5dfec"/><polygon points="-3.2,2.2 -0.7,2.3 -2.7,4.4" fill="#bccadc"/><polygon points="-0.9,3.3 -1.7,1.4 0.3,1.8" fill="#c8d5e6"/><polygon points="2.4,-3.0 0.1,-3.1 1.2,-4.7" fill="#3f4650"/><polygon points="2.6,-1.7 1.0,-1.5 1.3,-2.7" fill="#a9b8cc"/><polygon points="0.3,4.6 0.4,2.9 2.8,4.5" fill="#b4c3d6"/><polygon points="2.4,3.5 1.1,1.8 3.0,1.5" fill="#dfe8f2"/></g>
<g transform="translate(396.4,798.8)"><ellipse rx="6.0" ry="6.2" fill="#f1f5fa"/><polygon points="0.9,-2.8 1.3,-4.4 2.6,-2.9" fill="#3f4650"/><polygon points="0.8,-1.2 2.7,1.0 -0.5,0.8" fill="#5c6675"/><polygon points="2.2,-0.3 4.2,-2.2 6.1,0.8" fill="#d5dfec"/><polygon points="2.5,-2.8 2.4,-1.4 0.6,-2.3" fill="#5c6675"/><polygon points="-4.6,2.9 -5.1,0.7 -2.4,1.1" fill="#cbd6e4"/><polygon points="1.1,-1.8 0.6,1.5 -2.6,-0.4" fill="#dfe8f2"/><polygon points="2.6,1.6 4.4,3.6 1.6,3.3" fill="#cbd6e4"/><polygon points="-2.1,-4.7 -1.1,-2.2 -5.0,-2.3" fill="#c8d5e6"/><polygon points="3.6,-1.9 5.7,-0.3 3.5,0.0" fill="#d5dfec"/><polygon points="2.3,-1.0 2.9,-2.7 4.4,-1.6" fill="#7c8899"/><polygon points="-3.8,0.1 -0.8,0.2 -3.5,2.0" fill="#dfe8f2"/><polygon points="0.7,1.5 3.1,3.3 -0.3,3.4" fill="#c8d5e6"/><polygon points="4.4,3.3 0.2,1.9 2.7,0.9" fill="#cbd6e4"/><polygon points="-1.5,4.6 1.3,3.2 2.0,5.1" fill="#3f4650"/></g>
<g transform="translate(413.0,798.2)"><ellipse rx="8.8" ry="6.8" fill="#f1f5fa"/><polygon points="0.1,-0.6 4.9,0.0 2.4,2.4" fill="#a9b8cc"/><polygon points="-1.8,5.4 0.3,2.8 3.6,6.7" fill="#dfe8f2"/><polygon points="-2.5,1.6 1.2,1.0 -0.8,3.3" fill="#7c8899"/><polygon points="-5.7,-3.6 -3.1,0.7 -7.9,0.9" fill="#dfe8f2"/><polygon points="6.8,1.8 1.0,-0.3 5.0,-2.4" fill="#c3d0e2"/><polygon points="0.9,-2.1 0.8,0.4 -1.5,-1.1" fill="#c8d5e6"/><polygon points="-0.1,-4.9 -1.0,-2.9 -4.1,-4.1" fill="#bccadc"/><polygon points="-1.0,4.5 -4.6,2.3 1.3,0.6" fill="#b4c3d6"/><polygon points="-4.7,-0.4 0.4,-0.6 -2.5,1.8" fill="#dfe8f2"/><polygon points="7.2,-4.3 3.8,-1.5 1.6,-4.7" fill="#4b5360"/><polygon points="3.2,5.1 1.3,2.5 5.6,2.8" fill="#dfe8f2"/><polygon points="-3.0,-4.3 0.2,-6.0 1.0,-3.0" fill="#b4c3d6"/><polygon points="7.6,1.8 2.7,1.6 6.5,-1.5" fill="#dfe8f2"/><polygon points="-0.3,1.3 1.7,-2.3 6.4,0.9" fill="#cbd6e4"/><polygon points="-5.7,4.1 -6.6,0.2 -2.4,1.7" fill="#b4c3d6"/><polygon points="-5.1,-0.0 -2.1,2.8 -7.9,2.2" fill="#d5dfec"/><polygon points="0.6,-1.0 -4.0,-1.4 -1.2,-3.0" fill="#a9b8cc"/></g>
<g transform="translate(438.3,797.4)"><ellipse rx="11.4" ry="7.3" fill="#f1f5fa"/><polygon points="-6.3,2.5 -3.2,-0.9 -0.5,1.3" fill="#c3d0e2"/><polygon points="6.6,0.6 6.6,-1.8 10.0,-1.0" fill="#4b5360"/><polygon points="-1.3,-6.7 4.2,-5.6 2.1,-2.7" fill="#a9b8cc"/><polygon points="-5.1,1.9 -6.0,-0.6 -2.4,-0.2" fill="#c3d0e2"/><polygon points="6.4,-2.4 11.8,-0.3 5.9,1.2" fill="#4b5360"/><polygon points="-0.9,-4.1 2.4,-2.9 -0.9,-1.8" fill="#7c8899"/><polygon points="-0.3,-1.8 2.4,-4.4 4.0,-1.6" fill="#4b5360"/><polygon points="-0.6,-1.7 3.6,-0.9 0.6,1.1" fill="#b4c3d6"/><polygon points="-7.0,-2.7 -1.4,-5.0 -2.9,-0.6" fill="#4b5360"/><polygon points="-4.8,-3.1 0.3,-4.9 1.3,-1.0" fill="#c8d5e6"/><polygon points="5.4,5.4 0.5,4.3 4.3,2.1" fill="#7c8899"/><polygon points="-7.2,-6.4 -0.7,-6.5 -4.4,-2.5" fill="#7c8899"/><polygon points="2.9,-0.5 3.6,4.0 -1.5,0.4" fill="#c8d5e6"/><polygon points="0.3,4.1 2.5,2.8 4.1,5.3" fill="#8e9bad"/><polygon points="7.2,-0.5 5.8,3.7 1.0,-0.0" fill="#5c6675"/><polygon points="8.8,1.0 9.3,3.5 6.1,2.4" fill="#a9b8cc"/><polygon points="-3.8,5.4 -5.8,2.0 1.4,2.5" fill="#c3d0e2"/><polygon points="-10.1,-0.5 -4.8,1.2 -8.5,3.9" fill="#c8d5e6"/><polygon points="2.7,2.7 -2.3,2.2 1.7,-1.5" fill="#dfe8f2"/><polygon points="2.6,-1.3 -1.7,-1.6 -0.4,-4.2" fill="#3f4650"/></g>
<g transform="translate(463.6,797.4)"><ellipse rx="10.3" ry="7.3" fill="#f1f5fa"/><polygon points="-4.3,-6.2 -1.3,-2.5 -6.5,-1.9" fill="#7c8899"/><polygon points="-0.5,1.6 0.6,-1.1 4.2,1.6" fill="#dfe8f2"/><polygon points="-0.8,4.5 -2.1,1.4 5.0,2.5" fill="#a9b8cc"/><polygon points="7.5,-4.4 0.6,-2.9 2.6,-7.0" fill="#4b5360"/><polygon points="6.7,1.3 4.0,2.9 2.8,1.0" fill="#7c8899"/><polygon points="0.2,-2.4 -0.7,-6.5 6.0,-4.1" fill="#c8d5e6"/><polygon points="4.9,-1.6 6.9,-4.9 9.3,-3.2" fill="#dfe8f2"/><polygon points="1.2,3.2 -1.7,6.1 -3.4,3.5" fill="#cbd6e4"/><polygon points="0.6,3.8 6.4,4.3 3.2,7.0" fill="#d5dfec"/><polygon points="5.0,0.8 4.4,6.0 -1.1,2.4" fill="#7c8899"/><polygon points="-3.7,1.7 3.2,1.7 -1.2,6.3" fill="#7c8899"/><polygon points="0.4,3.5 1.5,-0.8 6.4,2.8" fill="#c8d5e6"/><polygon points="0.7,7.1 -0.8,3.1 6.1,3.9" fill="#bccadc"/><polygon points="-0.9,-2.8 -2.5,-5.5 1.2,-5.4" fill="#d5dfec"/><polygon points="-2.7,-3.5 -0.5,0.1 -7.4,0.1" fill="#8e9bad"/><polygon points="-6.8,-4.7 -4.3,-6.7 -2.1,-4.3" fill="#a9b8cc"/><polygon points="0.9,3.4 6.0,4.5 2.0,7.2" fill="#d5dfec"/><polygon points="1.2,3.0 -2.9,6.4 -5.2,2.4" fill="#dfe8f2"/><polygon points="-6.1,4.1 0.7,3.9 -3.9,8.2" fill="#8e9bad"/></g>
<g transform="translate(491.8,797.4)"><ellipse rx="10.8" ry="7.3" fill="#f1f5fa"/><polygon points="2.8,-3.2 0.5,0.3 -3.9,-2.2" fill="#d5dfec"/><polygon points="-3.6,-3.4 2.7,-3.6 1.8,-0.5" fill="#d5dfec"/><polygon points="-3.9,-4.6 1.4,-3.3 -4.6,-1.6" fill="#cbd6e4"/><polygon points="3.8,2.6 2.9,5.9 -1.2,3.6" fill="#c8d5e6"/><polygon points="10.2,0.4 4.8,-0.9 9.2,-3.3" fill="#cbd6e4"/><polygon points="-0.7,3.2 -0.6,-1.0 4.6,0.1" fill="#dfe8f2"/><polygon points="-1.4,4.5 -3.3,1.8 1.9,2.6" fill="#8e9bad"/><polygon points="-3.2,1.5 -0.6,3.0 -4.9,4.7" fill="#8e9bad"/><polygon points="-1.7,4.5 4.5,2.0 5.6,6.4" fill="#dfe8f2"/><polygon points="-2.0,-3.2 1.8,-3.5 -0.8,-1.3" fill="#dfe8f2"/><polygon points="6.3,-0.2 10.8,1.2 5.8,2.2" fill="#3f4650"/><polygon points="4.3,-0.0 7.1,3.2 3.3,2.9" fill="#cbd6e4"/><polygon points="2.5,3.7 -0.5,6.4 -3.2,4.0" fill="#a9b8cc"/><polygon points="7.2,-1.6 2.6,-0.3 2.1,-4.0" fill="#7c8899"/><polygon points="3.4,3.3 -0.2,3.5 2.2,1.3" fill="#cbd6e4"/><polygon points="-7.5,3.1 -3.6,-0.4 -0.1,2.2" fill="#b4c3d6"/><polygon points="2.0,-2.3 4.1,0.5 -0.3,0.1" fill="#bccadc"/><polygon points="-6.7,3.8 0.6,4.0 -3.6,7.4" fill="#7c8899"/><polygon points="-1.9,-1.9 1.5,-3.9 2.4,-2.1" fill="#dfe8f2"/></g>
<g transform="translate(519.6,797.4)"><ellipse rx="10.6" ry="7.3" fill="#f1f5fa"/><polygon points="5.8,-1.1 8.9,3.6 2.5,2.5" fill="#7c8899"/><polygon points="5.2,-1.6 3.9,-4.5 7.4,-4.7" fill="#7c8899"/><polygon points="3.3,-3.9 5.9,1.1 -0.6,-0.0" fill="#4b5360"/><polygon points="2.0,1.8 -4.2,4.3 -3.0,-0.1" fill="#d5dfec"/><polygon points="4.9,-1.8 8.3,-4.5 9.1,-1.2" fill="#bccadc"/><polygon points="8.0,-3.3 7.2,-0.1 3.3,-2.7" fill="#3f4650"/><polygon points="-2.8,1.1 2.1,-0.7 0.8,2.5" fill="#3f4650"/><polygon points="-6.2,2.7 -9.4,2.4 -7.0,0.1" fill="#d5dfec"/><polygon points="-4.2,-1.5 -9.8,1.3 -11.4,-3.0" fill="#c8d5e6"/><polygon points="-5.1,4.0 -2.9,2.0 -1.6,4.2" fill="#cbd6e4"/><polygon points="-5.6,4.1 -6.9,-1.3 -1.8,1.0" fill="#b4c3d6"/><polygon points="0.0,6.8 -3.2,4.7 1.0,3.2" fill="#bccadc"/><polygon points="-4.7,2.0 0.1,1.6 -2.2,4.2" fill="#dfe8f2"/><polygon points="4.1,0.6 7.8,-2.4 11.1,0.0" fill="#7c8899"/><polygon points="5.1,-0.9 0.7,-1.1 3.1,-4.7" fill="#a9b8cc"/><polygon points="5.5,-0.3 7.0,3.0 1.5,3.0" fill="#a9b8cc"/><polygon points="-1.3,1.9 0.3,-0.5 3.0,2.2" fill="#8e9bad"/><polygon points="-5.7,2.5 -6.7,-0.4 -0.0,0.1" fill="#4b5360"/><polygon points="5.6,0.1 5.2,2.3 2.1,1.0" fill="#d5dfec"/></g>
<g transform="translate(535.6,797.0)"><ellipse rx="5.6" ry="6.4" fill="#f1f5fa"/><polygon points="2.2,2.2 0.4,-0.3 4.5,-0.1" fill="#a9b8cc"/><polygon points="-1.0,0.9 -4.9,0.2 -3.2,-1.6" fill="#d5dfec"/><polygon points="-4.4,-2.7 -2.6,-1.9 -4.8,-0.7" fill="#cbd6e4"/><polygon points="2.6,-2.1 0.1,-1.9 0.8,-3.6" fill="#c8d5e6"/><polygon points="-4.7,-2.9 -2.3,-4.4 -0.6,-1.9" fill="#b4c3d6"/><polygon points="2.0,-2.4 4.0,-2.7 4.0,-0.7" fill="#d5dfec"/><polygon points="-3.5,-2.1 -3.4,-3.8 -0.9,-2.4" fill="#cbd6e4"/><polygon points="-2.2,2.2 0.9,2.5 -1.2,4.4" fill="#a9b8cc"/><polygon points="-2.7,4.2 -3.3,2.8 -1.4,2.8" fill="#5c6675"/><polygon points="-4.1,-1.0 -4.3,-3.6 -1.5,-3.1" fill="#cbd6e4"/><polygon points="2.0,-5.0 0.6,-2.9 -0.8,-5.2" fill="#dfe8f2"/><polygon points="-1.8,-0.7 -3.7,1.5 -4.6,-0.6" fill="#a9b8cc"/><polygon points="2.9,-3.2 1.1,-1.4 0.3,-3.6" fill="#a9b8cc"/><polygon points="2.1,5.4 1.2,3.4 3.6,3.8" fill="#c8d5e6"/></g>
<g transform="translate(548.6,797.6)"><ellipse rx="6.6" ry="6.6" fill="#f1f5fa"/><polygon points="6.2,0.6 4.4,3.5 1.4,2.0" fill="#b4c3d6"/><polygon points="4.6,0.2 2.4,1.6 0.7,-0.9" fill="#d5dfec"/><polygon points="3.3,-0.0 2.7,-2.6 6.6,-2.0" fill="#3f4650"/><polygon points="-2.4,-3.8 -3.8,-2.4 -4.8,-3.8" fill="#a9b8cc"/><polygon points="1.5,-4.7 0.7,-2.1 -1.6,-3.6" fill="#dfe8f2"/><polygon points="0.1,-4.8 2.1,-2.0 -2.5,-2.7" fill="#b4c3d6"/><polygon points="-0.2,1.0 -1.5,3.5 -3.6,1.0" fill="#a9b8cc"/><polygon points="-2.4,4.7 -2.2,3.2 -0.3,3.9" fill="#8e9bad"/><polygon points="-0.3,5.1 2.4,3.9 2.2,6.1" fill="#bccadc"/><polygon points="-3.6,1.1 -0.4,1.4 -1.6,3.8" fill="#8e9bad"/><polygon points="-3.5,3.2 0.5,2.0 -0.1,5.2" fill="#b4c3d6"/><polygon points="-4.2,3.3 -0.8,2.2 -2.5,4.8" fill="#5c6675"/><polygon points="0.4,2.8 0.8,0.4 3.9,2.2" fill="#8e9bad"/><polygon points="-0.9,-0.6 -5.3,-1.3 -3.2,-3.4" fill="#c3d0e2"/><polygon points="-4.2,0.3 -1.5,-1.5 0.0,1.9" fill="#cbd6e4"/></g>
<g transform="translate(562.4,798.2)"><ellipse rx="7.0" ry="6.4" fill="#f1f5fa"/><polygon points="0.3,1.4 2.4,-0.9 4.1,0.6" fill="#bccadc"/><polygon points="-4.8,-0.3 -1.7,1.6 -5.3,2.9" fill="#5c6675"/><polygon points="-3.6,-2.9 -2.6,0.6 -6.7,-0.1" fill="#a9b8cc"/><polygon points="1.7,2.5 6.3,0.9 4.5,4.2" fill="#8e9bad"/><polygon points="0.6,-1.9 0.2,-3.7 2.8,-2.7" fill="#4b5360"/><polygon points="6.9,-2.1 4.5,0.4 3.7,-2.5" fill="#bccadc"/><polygon points="4.9,-4.2 2.7,-2.1 1.9,-4.4" fill="#8e9bad"/><polygon points="-5.4,-4.2 -1.4,-3.2 -3.8,-1.2" fill="#bccadc"/><polygon points="1.5,-2.2 -3.4,-2.6 -0.0,-4.7" fill="#b4c3d6"/><polygon points="5.1,-4.0 2.1,-2.2 1.5,-4.4" fill="#7c8899"/><polygon points="-3.0,-0.7 -4.0,-2.9 -0.9,-2.4" fill="#b4c3d6"/><polygon points="-1.8,-6.3 -0.7,-3.2 -4.8,-4.9" fill="#4b5360"/><polygon points="-4.9,-1.0 -2.1,1.1 -5.5,1.6" fill="#bccadc"/><polygon points="3.1,-1.6 -1.8,-0.8 0.4,-3.5" fill="#cbd6e4"/><polygon points="3.0,-1.0 -0.3,-0.1 0.2,-2.4" fill="#cbd6e4"/></g>
<g transform="translate(575.4,799.2)"><ellipse rx="5.0" ry="5.4" fill="#f1f5fa"/><polygon points="-0.2,-4.6 0.6,-3.4 -1.8,-3.8" fill="#d5dfec"/><polygon points="-2.8,-0.5 -1.4,0.4 -3.5,1.0" fill="#a9b8cc"/><polygon points="0.3,0.3 2.0,1.5 -0.5,1.9" fill="#b4c3d6"/><polygon points="-1.1,2.1 -3.5,1.1 -1.3,0.0" fill="#7c8899"/><polygon points="1.2,2.2 -1.9,2.9 -1.3,0.5" fill="#b4c3d6"/><polygon points="3.5,-1.0 2.8,1.7 0.8,-0.4" fill="#d5dfec"/><polygon points="-2.4,0.9 -0.6,2.3 -2.2,2.6" fill="#a9b8cc"/><polygon points="0.5,-3.1 0.4,-2.0 -1.3,-2.5" fill="#b4c3d6"/><polygon points="0.2,-0.6 -1.2,-1.2 -0.1,-2.0" fill="#d5dfec"/><polygon points="-3.3,1.8 -1.4,2.2 -2.7,3.2" fill="#8e9bad"/><polygon points="-1.1,2.3 0.4,0.9 1.1,2.8" fill="#b4c3d6"/><polygon points="-0.2,1.0 -2.4,1.5 -2.1,-0.7" fill="#8e9bad"/><polygon points="-2.6,1.5 -0.2,1.8 -1.7,3.2" fill="#b4c3d6"/></g>
<g transform="translate(581.6,800.8)"><ellipse rx="2.6" ry="3.4" fill="#f1f5fa"/><polygon points="-0.7,1.6 -1.6,1.0 -0.5,0.8" fill="#d5dfec"/><polygon points="1.0,1.5 0.7,2.3 0.0,1.8" fill="#5c6675"/><polygon points="-0.7,-0.9 0.2,-1.3 0.1,-0.4" fill="#cbd6e4"/><polygon points="0.7,1.1 -0.7,0.4 0.6,0.2" fill="#7c8899"/><polygon points="-1.3,0.2 -0.1,-0.5 0.6,0.6" fill="#dfe8f2"/><polygon points="0.8,-2.7 1.0,-1.8 -0.0,-2.1" fill="#bccadc"/><polygon points="-0.7,-0.2 0.6,-1.1 1.0,0.3" fill="#dfe8f2"/><polygon points="-0.5,-2.8 0.8,-3.0 0.7,-2.1" fill="#c3d0e2"/><polygon points="1.3,-1.1 -0.1,-0.6 0.0,-1.8" fill="#a9b8cc"/><polygon points="-0.7,1.4 -1.1,0.6 0.7,0.7" fill="#c3d0e2"/></g>
<rect x="431.2" y="777.6" width="95.6" height="13.2" fill="url(#gBez)"/>
<rect x="431.2" y="777.6" width="95.6" height="13.2" fill="url(#gShade)" opacity="0.5"/>
<path d="M456.5 778.5 L457.5 771.5 L462.5 771.5 L463.5 778.5 Z" fill="#e0b253"/>
<path d="M493.5 778.5 L494.5 771.5 L499.5 771.5 L500.5 778.5 Z" fill="#e0b253"/>
<g transform="translate(447.8,774.0)"><ellipse rx="8.8" ry="4.2" fill="#f1f5fa"/><polygon points="1.8,-1.7 2.1,-3.2 3.4,-1.8" fill="#3f4650"/><polygon points="1.3,-1.2 3.2,0.9 0.1,0.8" fill="#5c6675"/><polygon points="4.4,-0.2 6.4,-1.9 8.1,0.9" fill="#d5dfec"/><polygon points="3.3,-2.1 3.2,-0.7 1.5,-1.6" fill="#5c6675"/><polygon points="-6.4,2.3 -6.9,0.2 -4.3,0.6" fill="#cbd6e4"/><polygon points="1.0,-1.6 0.6,1.5 -2.5,-0.3" fill="#dfe8f2"/><polygon points="4.1,0.8 5.7,2.6 3.1,2.4" fill="#cbd6e4"/><polygon points="-3.5,-3.6 -2.6,-1.2 -6.4,-1.3" fill="#c8d5e6"/><polygon points="5.6,-1.5 7.6,-0.1 5.5,0.3" fill="#d5dfec"/><polygon points="3.8,-0.5 4.4,-2.1 5.7,-1.0" fill="#7c8899"/><polygon points="-4.9,-0.2 -2.0,-0.1 -4.5,1.7" fill="#dfe8f2"/><polygon points="1.4,0.6 3.6,2.4 0.4,2.5" fill="#c8d5e6"/><polygon points="5.4,2.4 1.5,1.2 3.8,0.1" fill="#cbd6e4"/><polygon points="-1.2,3.2 1.5,1.8 2.2,3.7" fill="#3f4650"/><polygon points="-5.6,2.9 -3.9,1.6 -2.9,2.5" fill="#dfe8f2"/><polygon points="0.2,2.4 -0.6,0.8 2.6,0.7" fill="#3f4650"/><polygon points="-1.2,1.3 -3.3,3.0 -3.9,0.9" fill="#c8d5e6"/></g>
<g transform="translate(478.0,773.8)"><ellipse rx="12.6" ry="4.4" fill="#f1f5fa"/><polygon points="-5.6,1.5 -3.8,-0.5 -2.1,0.8" fill="#c3d0e2"/><polygon points="8.0,0.4 7.9,-1.1 10.0,-0.6" fill="#4b5360"/><polygon points="-0.3,-4.0 3.0,-3.3 1.7,-1.6" fill="#a9b8cc"/><polygon points="-5.3,1.1 -5.9,-0.3 -3.7,-0.1" fill="#c3d0e2"/><polygon points="8.0,-1.4 11.3,-0.2 7.7,0.7" fill="#4b5360"/><polygon points="-0.4,-2.5 1.6,-1.7 -0.4,-1.1" fill="#7c8899"/><polygon points="0.7,-1.1 2.4,-2.6 3.3,-1.0" fill="#4b5360"/><polygon points="0.3,-1.0 2.8,-0.6 1.0,0.6" fill="#b4c3d6"/><polygon points="-5.9,-1.6 -2.6,-3.0 -3.5,-0.3" fill="#4b5360"/><polygon points="-3.5,-1.9 -0.5,-3.0 0.2,-0.6" fill="#c8d5e6"/><polygon points="5.0,3.2 2.0,2.6 4.3,1.3" fill="#7c8899"/><polygon points="-6.3,-3.9 -2.4,-3.9 -4.7,-1.5" fill="#7c8899"/><polygon points="2.5,-0.3 3.0,2.4 -0.2,0.3" fill="#c8d5e6"/><polygon points="1.4,2.5 2.8,1.7 3.7,3.2" fill="#8e9bad"/><polygon points="6.5,-0.3 5.7,2.3 2.8,-0.0" fill="#5c6675"/><polygon points="9.4,0.6 9.7,2.1 7.8,1.4" fill="#a9b8cc"/><polygon points="-3.4,3.3 -4.6,1.2 -0.3,1.5" fill="#c3d0e2"/><polygon points="-10.2,-0.3 -7.0,0.7 -9.3,2.3" fill="#c8d5e6"/><polygon points="1.9,1.7 -1.1,1.3 1.3,-0.9" fill="#dfe8f2"/><polygon points="1.9,-0.8 -0.7,-1.0 0.1,-2.5" fill="#3f4650"/><polygon points="-8.1,2.7 -9.8,1.7 -7.2,0.9" fill="#c3d0e2"/></g>
<g transform="translate(509.6,774.0)"><ellipse rx="9.4" ry="4.2" fill="#f1f5fa"/><polygon points="-4.7,0.7 -7.1,0.9 -5.5,-0.6" fill="#c8d5e6"/><polygon points="-5.8,-2.8 -2.2,-3.9 -2.4,-1.3" fill="#a9b8cc"/><polygon points="3.3,-1.0 4.9,-2.0 5.0,-0.4" fill="#7c8899"/><polygon points="-1.9,3.2 -1.8,1.7 0.1,3.0" fill="#c8d5e6"/><polygon points="-2.0,-2.6 -4.3,-0.9 -5.1,-3.0" fill="#c8d5e6"/><polygon points="1.1,-0.1 3.6,0.8 1.1,1.5" fill="#dfe8f2"/><polygon points="-1.6,-2.5 1.1,-2.1 -0.2,-0.8" fill="#d5dfec"/><polygon points="-5.5,1.4 -2.4,1.5 -4.9,4.0" fill="#bccadc"/><polygon points="-2.0,3.1 -2.9,0.7 -0.4,1.3" fill="#c8d5e6"/><polygon points="4.0,-2.2 1.1,-2.3 2.5,-4.2" fill="#3f4650"/><polygon points="4.5,-1.3 2.6,-1.0 2.9,-2.5" fill="#a9b8cc"/><polygon points="1.5,4.1 1.6,2.0 4.6,3.9" fill="#b4c3d6"/><polygon points="4.8,3.3 3.2,1.2 5.6,0.8" fill="#dfe8f2"/><polygon points="3.3,-2.2 7.3,-1.0 3.9,0.2" fill="#c8d5e6"/><polygon points="-2.7,-0.7 -5.6,-1.8 -3.3,-3.1" fill="#c8d5e6"/><polygon points="-5.5,-0.3 -6.2,1.3 -7.2,-0.4" fill="#bccadc"/><polygon points="0.6,1.4 0.2,2.9 -1.1,1.6" fill="#cbd6e4"/><polygon points="-7.9,0.1 -5.4,0.0 -6.2,1.7" fill="#c3d0e2"/></g>
</g>
<text class="dm" font-size="30.4" transform="translate(419.6,740.4) scale(1,1.025)">20.0 mm</text>
<text class="dm2" font-size="30" transform="translate(700.8,1029.2) rotate(-90) scale(1,1.035)">24.0 mm</text>
</svg>
</body>
</html>
